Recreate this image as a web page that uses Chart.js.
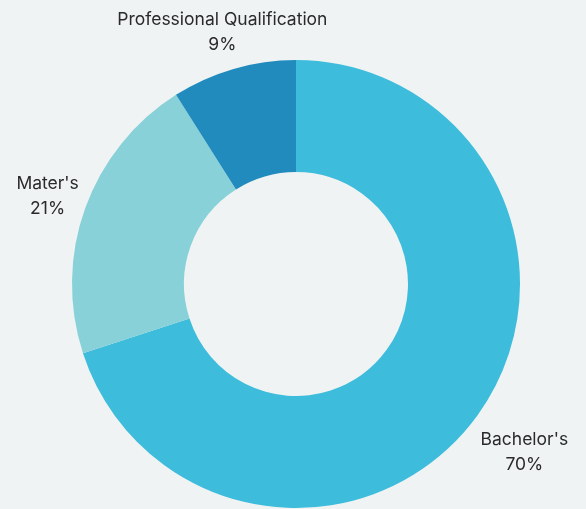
<!DOCTYPE html>
<html>
<head>
<meta charset="utf-8">
<script src="https://cdn.jsdelivr.net/npm/chart.js@4.4.1/dist/chart.umd.min.js"></script>
<style>
html,body{margin:0;padding:0;background:#eff3f4;}
#wrap{width:586px;height:509px;}
</style>
</head>
<body>
<div id="wrap"><canvas id="c" width="586" height="509"></canvas></div>
<script>
const categories = ["Bachelor's", "Mater's", "Professional Qualification"];
const values = [70, 21, 9];
const colors = ["#3dbcdc", "#88d1d8", "#228bbd"];

const outerLabels = {
  id: 'outerLabels',
  afterDatasetsDraw(chart) {
    const ctx = chart.ctx;
    const meta = chart.getDatasetMeta(0);
    ctx.save();
    ctx.font = '17.5px Inter, "Noto Sans", sans-serif';
    ctx.fillStyle = '#2a2a2a';
    ctx.textAlign = 'center';
    ctx.textBaseline = 'middle';
    meta.data.forEach((arc, i) => {
      const p = arc.getProps(['x','y','startAngle','endAngle','outerRadius'], true);
      const mid = (p.startAngle + p.endAngle) / 2;
      const r = p.outerRadius + 40 + 31 * Math.max(0, Math.sin(mid));
      const x = p.x + Math.cos(mid) * r;
      const y = p.y + Math.sin(mid) * r + 2;
      ctx.fillText(categories[i], x, y - 12.5);
      ctx.fillText(values[i] + '%', x, y + 12.5);
    });
    ctx.restore();
  }
};

new Chart(document.getElementById('c'), {
  type: 'doughnut',
  data: {
    labels: categories,
    datasets: [{ data: values, backgroundColor: colors, borderWidth: 0, hoverOffset: 0 }]
  },
  options: {
    responsive: false,
    animation: false,
    cutout: '50%',
    layout: { padding: { top: 60, bottom: 1, left: 6, right: 0 } },
    plugins: { legend: { display: false }, tooltip: { enabled: false } }
  },
  plugins: [outerLabels]
});
</script>
</body>
</html>
